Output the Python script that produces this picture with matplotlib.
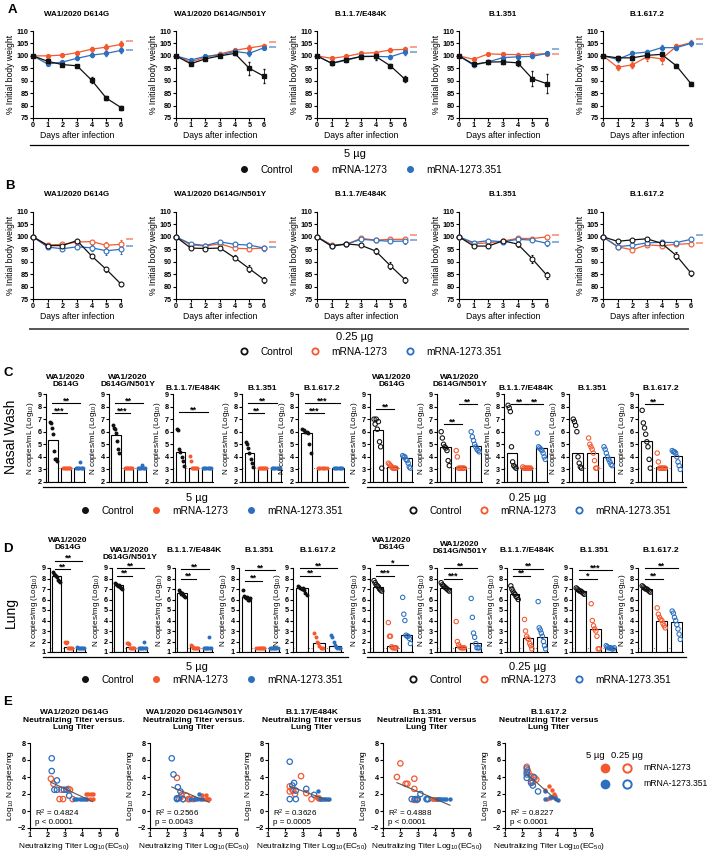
import numpy as np
import matplotlib
matplotlib.use("Agg")
import matplotlib.pyplot as plt
from matplotlib.lines import Line2D

plt.rcParams['font.family'] = ['Liberation Sans', 'DejaVu Sans']
plt.rcParams['font.weight'] = 'bold'
plt.rcParams['mathtext.default'] = 'regular'
plt.rcParams['axes.linewidth'] = 0.8

W, H = 714, 857
BLACK = '#111111'
ORANGE = '#F4582F'
BLUE = '#2C6FBF'
COLORS = [BLACK, ORANGE, BLUE]

variants = ["WA1/2020 D614G", "WA1/2020 D614G/N501Y", "B.1.1.7/E484K", "B.1.351", "B.1.617.2"]
groups = ["Control", "mRNA-1273", "mRNA-1273.351"]
days = [0, 1, 2, 3, 4, 5, 6]

# ---- A: body weight, 5 ug ----
a_ctrl = [[100, 97.8, 96.5, 96.0, 90.2, 83.0, 79.2],
          [100, 96.8, 98.8, 100.0, 101.0, 95.0, 91.8],
          [100, 97.0, 98.5, 99.7, 99.8, 96.0, 90.6],
          [100, 96.6, 97.5, 97.6, 97.2, 90.8, 88.8],
          [100, 99.2, 99.2, 100.2, 100.6, 96.0, 88.8]]
a_1273 = [[100, 100.0, 100.3, 101.3, 102.7, 103.5, 104.6],
          [100, 97.5, 99.5, 100.8, 102.2, 103.2, 104.1],
          [100, 99.0, 99.8, 101.0, 101.3, 102.4, 102.6],
          [100, 98.6, 100.8, 100.6, 100.5, 100.6, 100.9],
          [100, 95.4, 96.4, 99.6, 98.8, 103.8, 105.3]]
a_351 = [[100, 96.7, 97.5, 99.0, 100.3, 101.0, 102.2],
         [100, 98.3, 99.8, 100.3, 101.8, 101.0, 103.3],
         [100, 97.0, 98.2, 99.8, 99.8, 99.6, 101.5],
         [100, 96.2, 97.6, 99.3, 99.6, 99.8, 101.0],
         [100, 98.6, 101.0, 101.5, 103.3, 103.3, 105.0]]
a_ctrl_err = [[0, 0.6, 0.5, 0.5, 1.3, 0.9, 0.8],
              [0, 0.5, 0.5, 0.5, 0.6, 2.5, 2.8],
              [0, 0.5, 0.6, 0.7, 1.5, 0.8, 1.2],
              [0, 0.5, 0.8, 0.8, 1.2, 3.0, 3.8],
              [0, 0.8, 0.9, 0.8, 1.0, 0.6, 0.7]]
a_1273_err = [[0, 0.4, 0.6, 0.8, 1.0, 1.1, 1.2],
              [0, 0.5, 0.5, 0.6, 0.6, 1.0, 0.8],
              [0, 0.4, 0.5, 0.6, 0.6, 0.9, 1.0],
              [0, 0.3, 0.4, 0.5, 0.6, 0.6, 0.5],
              [0, 1.0, 1.2, 1.5, 2.0, 0.8, 1.0]]
a_351_err = [[0, 0.5, 0.6, 0.6, 0.8, 0.9, 1.0],
             [0, 0.5, 0.6, 0.6, 0.8, 1.0, 0.7],
             [0, 0.5, 0.6, 0.7, 1.0, 0.8, 1.2],
             [0, 0.5, 0.6, 0.6, 0.7, 0.6, 0.4],
             [0, 1.0, 0.8, 1.0, 1.0, 0.9, 0.9]]
a_sig_1273 = [105.3, 105.0, 103.0, 100.0, 106.2]
a_sig_351 = [101.9, 103.0, 101.0, 102.0, 104.2]

# ---- B: body weight, 0.25 ug ----
b_ctrl = [[100, 96.5, 96.5, 98.5, 92.3, 86.9, 81.0],
          [100, 95.5, 95.3, 95.5, 91.6, 87.2, 82.8],
          [100, 96.2, 97.2, 96.6, 94.3, 88.4, 82.8],
          [100, 96.3, 96.3, 98.4, 97.1, 91.1, 84.5],
          [100, 98.2, 98.8, 99.2, 97.4, 92.5, 85.4]]
b_1273 = [[100, 96.7, 97.0, 97.9, 98.1, 96.6, 97.0],
          [100, 96.8, 96.3, 97.2, 95.4, 95.2, 95.5],
          [100, 96.8, 97.0, 99.4, 98.7, 99.0, 99.0],
          [100, 97.2, 97.6, 98.3, 99.4, 99.3, 100.0],
          [100, 96.0, 94.8, 96.8, 96.4, 97.0, 97.3]]
b_351 = [[100, 95.9, 95.2, 96.0, 95.6, 94.4, 95.0],
         [100, 97.2, 96.5, 98.0, 97.0, 96.7, 95.5],
         [100, 96.5, 97.0, 99.0, 98.6, 98.2, 98.3],
         [100, 97.7, 98.5, 98.0, 99.0, 98.7, 97.4],
         [100, 96.1, 96.6, 97.6, 97.8, 97.7, 99.0]]
b_ctrl_err = [[0, 0.5, 0.5, 0.5, 1.0, 1.0, 0.8],
              [0, 0.5, 0.5, 0.6, 1.0, 1.5, 1.2],
              [0, 0.5, 0.5, 0.8, 1.3, 1.5, 1.2],
              [0, 0.5, 0.6, 0.5, 1.2, 1.5, 1.3],
              [0, 0.5, 0.5, 0.5, 0.8, 1.3, 1.0]]
b_1273_err = [[0, 0.5, 0.7, 0.7, 0.8, 1.2, 1.8],
              [0, 0.5, 0.5, 0.5, 0.6, 0.8, 1.0],
              [0, 0.5, 0.5, 0.6, 0.6, 0.8, 0.8],
              [0, 0.5, 0.5, 0.5, 0.6, 0.7, 0.8],
              [0, 0.6, 0.7, 0.7, 0.7, 0.8, 0.8]]
b_351_err = [[0, 0.5, 0.6, 0.8, 1.2, 1.5, 2.0],
             [0, 0.5, 0.5, 0.6, 0.8, 1.0, 1.0],
             [0, 0.5, 0.5, 0.6, 0.6, 0.8, 1.2],
             [0, 0.5, 0.5, 0.5, 0.6, 0.7, 1.0],
             [0, 0.6, 0.7, 0.6, 0.7, 0.8, 0.8]]
b_sig_1273 = [98.6, 97.4, 100.0, 100.2, 97.0]
b_sig_351 = [95.6, 95.4, 98.0, 97.2, 100.0]

# ---- C: nasal wash (log10 N copies/mL) ----
c5_ctrl = [[6.8, 6.7, 6.3, 5.8, 4.5, 3.8, 3.8, 3.7],
           [6.5, 6.3, 6.2, 5.9, 5.3, 4.6, 4.3],
           [6.2, 6.1, 4.6, 4.4, 4.0, 3.7, 3.3],
           [5.2, 5.0, 4.7, 4.3, 3.8, 3.5, 3.2],
           [6.2, 6.1, 6.0, 6.0, 5.9, 5.0, 4.3]]
c5_1273 = [[3.1, 3.1, 3.1, 3.1, 3.1, 3.1, 3.1, 3.1],
           [3.1, 3.1, 3.1, 3.1, 3.1, 3.1, 3.1, 3.1],
           [4.1, 3.7, 3.1, 3.1, 3.1, 3.1, 3.1, 3.1],
           [3.1, 3.1, 3.1, 3.1, 3.1, 3.1, 3.1, 3.1],
           [3.1, 3.1, 3.1, 3.1, 3.1, 3.1, 3.1, 3.1]]
c5_351 = [[3.1, 3.1, 3.1, 3.1, 3.6, 3.1, 3.1, 3.1],
          [3.1, 3.1, 3.1, 3.1, 3.35, 3.1, 3.1, 3.1],
          [3.1, 3.1, 3.1, 3.1, 3.1, 3.1, 3.1, 3.1],
          [3.1, 3.1, 3.1, 3.1, 3.1, 3.1, 3.1, 3.1],
          [3.1, 3.1, 3.1, 3.1, 3.1, 3.1, 3.1, 3.1]]
c5_bars = [[5.35, 3.1, 3.1], [5.75, 3.1, 3.1], [4.35, 3.1, 3.1], [4.3, 3.1, 3.1], [5.9, 3.1, 3.1]]
c5_sig = [[(0, 1, 7.5, '***'), (0, 2, 8.25, '**')],
          [(0, 1, 7.45, '***'), (0, 2, 8.25, '**')],
          [(0, 2, 7.6, '**')],
          [(0, 1, 7.5, '**'), (0, 2, 8.25, '**')],
          [(0, 1, 7.5, '***'), (0, 2, 8.25, '***')]]

c25_ctrl = [[7.0, 6.6, 7.0, 6.2, 6.8, 5.2, 4.8, 3.1],
            [6.0, 5.5, 5.0, 4.8, 4.7, 4.5, 3.7, 3.3],
            [8.1, 7.9, 7.6, 4.8, 3.6, 3.3, 3.2, 3.1],
            [7.0, 6.8, 6.5, 6.0, 4.0, 3.5, 3.2, 3.1],
            [7.7, 6.7, 6.3, 5.8, 5.2, 4.8, 3.8, 3.1]]
c25_1273 = [[3.5, 3.4, 3.3, 3.2, 3.1, 3.1, 3.1, 3.1],
            [4.5, 4.0, 3.1, 3.1, 3.1, 3.1, 3.1, 3.1],
            [3.2, 3.1, 3.1, 3.1, 3.1, 3.1, 3.1, 3.1],
            [5.5, 5.0, 4.8, 4.6, 4.3, 3.7, 3.1, 3.1],
            [4.3, 3.6, 3.1, 3.1, 3.1, 3.1, 3.1, 3.1]]
c25_351 = [[4.1, 4.0, 4.0, 3.8, 3.7, 3.5, 3.2, 3.1],
           [6.0, 5.6, 5.3, 5.0, 4.8, 4.6, 4.5, 4.4],
           [5.9, 4.8, 4.7, 4.6, 4.5, 4.3, 4.0, 3.8],
           [4.8, 4.6, 4.3, 4.0, 3.8, 3.6, 3.4, 3.3],
           [4.5, 4.4, 4.4, 4.3, 4.0, 3.6, 3.3, 3.0]]
c25_bars = [[6.1, 3.2, 3.9], [4.8, 3.2, 4.9], [4.3, 3.1, 4.7], [4.3, 4.3, 4.0], [5.3, 3.2, 4.1]]
c25_sig = [[(0, 1, 7.8, '**')],
           [(0, 1, 6.65, '**'), (1, 2, 8.2, '**')],
           [(0, 1, 8.2, '**'), (1, 2, 8.2, '**')],
           [],
           [(0, 1, 8.2, '**')]]

# ---- D: lung (log10 N copies/mg) ----
d5_ctrl = [[8.6, 8.4, 8.3, 8.2, 8.1, 7.9, 7.8, 7.7],
           [7.6, 7.5, 7.4, 7.3, 7.4, 7.2, 7.1, 7.0],
           [6.9, 6.7, 6.6, 6.5, 6.6, 6.4, 6.3, 6.2],
           [6.9, 6.3, 6.2, 6.1, 6.2, 6.0, 6.0, 6.1],
           [7.3, 7.2, 7.1, 7.0, 7.1, 6.9, 6.6, 6.4]]
d5_1273 = [[2.0, 1.9, 1.95, 1.4, 1.4, 1.4, 1.4, 1.4],
           [1.9, 1.85, 1.8, 1.4, 1.4, 1.4, 1.4, 1.4],
           [1.7, 1.6, 1.4, 1.4, 1.4, 1.4, 1.4, 1.4],
           [1.4, 1.4, 1.4, 1.4, 1.4, 1.4, 1.4, 1.4],
           [2.8, 2.4, 2.0, 1.9, 1.6, 1.4, 1.4, 1.4]]
d5_351 = [[1.45, 1.4, 1.4, 1.4, 1.4, 1.4, 1.4, 1.4],
          [1.4, 1.4, 1.4, 1.4, 1.4, 2.0, 1.4, 1.4],
          [1.4, 1.4, 1.4, 1.4, 1.4, 2.4, 1.4, 1.4],
          [1.4, 1.4, 1.4, 1.4, 1.4, 1.4, 1.4, 1.4],
          [2.6, 2.4, 2.0, 1.7, 1.5, 1.4, 1.4, 1.4]]
d5_bars = [[8.2, 1.45, 1.4], [7.4, 1.45, 1.45], [6.6, 1.45, 1.5], [6.2, 1.4, 1.4], [7.1, 1.9, 1.6]]
d5_sig = [[(0, 1, 8.9, '**'), (0, 2, 9.7, '**')],
          [(0, 1, 8.25, '**'), (0, 2, 9.0, '**')],
          [(0, 1, 8.0, '**'), (0, 2, 8.9, '**')],
          [(0, 1, 7.8, '**'), (0, 2, 8.8, '**')],
          [(0, 1, 8.25, '**'), (0, 2, 9.0, '**')]]

d25_ctrl = [[7.8, 7.6, 7.4, 7.3, 7.2, 7.0, 6.9, 6.8],
            [7.6, 7.4, 7.3, 7.2, 7.1, 7.0, 6.9, 6.8],
            [7.3, 7.0, 6.8, 6.6, 6.5, 6.3, 6.2, 6.0],
            [7.1, 7.0, 6.9, 6.8, 6.8, 6.7, 6.6, 6.5],
            [7.3, 7.2, 7.1, 7.0, 7.0, 6.9, 6.8, 6.7]]
d25_1273 = [[3.8, 2.5, 2.5, 1.5, 1.4, 1.4, 1.4, 1.4],
            [3.9, 2.0, 1.7, 1.5, 1.4, 1.4, 1.4, 1.4],
            [4.1, 3.0, 2.5, 2.3, 2.2, 1.8, 1.6, 1.3],
            [5.6, 4.0, 3.5, 3.2, 3.0, 2.5, 1.3, 1.3],
            [5.2, 4.6, 4.3, 4.1, 4.0, 3.7, 3.5, 3.3]]
d25_351 = [[6.2, 4.6, 4.0, 2.6, 2.5, 2.5, 2.3, 1.8],
           [6.1, 4.3, 2.8, 2.4, 1.8, 1.4, 1.4, 1.4],
           [5.8, 3.3, 3.1, 2.8, 2.5, 2.0, 1.6, 1.3],
           [1.6, 1.5, 1.4, 1.4, 1.4, 1.3, 1.3, 1.4],
           [4.9, 4.7, 4.3, 4.0, 3.6, 3.2, 2.7, 2.2]]
d25_bars = [[7.2, 1.6, 2.6], [7.1, 1.5, 1.9], [6.5, 2.3, 2.4], [6.8, 3.2, 1.4], [7.0, 4.0, 3.9]]
d25_sig = [[(0, 1, 8.25, '***'), (0, 2, 9.25, '*')],
           [(0, 1, 8.0, '***'), (0, 2, 9.0, '**')],
           [(0, 1, 8.25, '**'), (0, 2, 8.95, '**')],
           [(0, 1, 8.0, '*'), (0, 2, 8.8, '***')],
           [(0, 1, 8.0, '**'), (0, 2, 9.0, '**')]]

# ---- E: neutralizing titer vs lung titer ----
e_titles = ["WA1/2020 D614G\nNeutralizing Titer versus.\nLung Titer",
            "WA1/2020 D614G/N501Y\nNeutralizing Titer versus.\nLung Titer",
            "B.1.17/E484K\nNeutralizing Titer versus\nLung Titer",
            "B.1.351\nNeutralizing Titer versus\nLung Titer",
            "B.1.617.2\nNeutralizing Titer versus\nLung Titer"]
e_r2 = ["0.4824", "0.2566", "0.3626", "0.4888", "0.8227"]
e_p = ["p < 0.0001", "p = 0.0043", "p = 0.0005", "p < 0.0001", "p < 0.0001"]
e_f1273_x = [[4.2, 4.35, 4.5, 4.6, 4.3, 4.45, 4.6], [4.0, 4.2, 4.35, 4.4, 4.1, 4.25, 4.3],
             [3.75, 3.8, 3.85, 3.9, 3.95, 4.0, 4.05], [3.8, 3.9, 3.95, 4.0, 4.05, 4.1, 4.2],
             [3.3, 3.5, 3.7, 3.8, 3.6, 3.9, 3.4]]
e_f1273_y = [[2.0, 2.0, 2.0, 2.0, 1.4, 1.4, 1.4], [1.9, 1.9, 1.4, 1.4, 1.4, 1.4, 1.4],
             [1.6, 1.5, 1.4, 1.7, 1.6, 1.4, 1.4], [1.4, 1.4, 1.4, 1.4, 1.4, 1.4, 1.4],
             [2.5, 2.9, 2.5, 2.0, 1.5, 1.8, 1.4]]
e_o1273_x = [[2.2, 2.35, 2.7, 2.9, 3.3, 3.45, 2.8, 3.2], [2.55, 2.8, 3.1, 3.3, 3.2, 2.9, 3.5, 2.75],
             [2.25, 2.25, 2.4, 2.45, 2.55, 2.9, 3.2, 3.5], [1.8, 2.0, 2.3, 2.4, 2.8, 2.8, 2.95, 2.8],
             [2.25, 2.3, 2.35, 2.5, 2.5, 2.6, 2.7, 2.8]]
e_o1273_y = [[3.8, 3.2, 1.4, 1.4, 2.5, 1.4, 2.5, 2.6], [3.9, 1.9, 1.8, 1.4, 1.4, 1.4, 1.4, 1.6],
             [2.9, 2.3, 2.5, 2.4, 2.0, 4.1, 2.1, 1.4], [4.0, 5.6, 3.2, 3.2, 3.8, 2.6, 1.3, 1.3],
             [5.2, 4.8, 4.5, 4.1, 3.5, 3.4, 3.9, 3.7]]
e_f351_x = [[3.5, 3.6, 3.7, 3.9, 4.0, 4.1, 4.2], [3.3, 3.5, 3.6, 3.7, 3.8, 3.9, 4.0],
            [3.9, 4.0, 4.1, 4.2, 4.3, 4.4, 4.5], [4.1, 4.2, 4.3, 4.4, 4.5, 4.6, 4.85],
            [3.3, 3.3, 3.6, 3.7, 3.85, 3.95, 4.05]]
e_f351_y = [[1.4, 1.4, 1.4, 1.4, 1.4, 1.4, 1.4], [1.4, 1.4, 1.4, 1.4, 2.0, 1.4, 1.4],
            [2.4, 1.4, 1.4, 1.4, 1.4, 1.4, 1.4], [1.4, 1.4, 1.4, 1.4, 1.4, 1.4, 1.4],
            [1.4, 2.4, 1.6, 1.7, 1.5, 1.4, 1.3]]
e_o351_x = [[2.25, 2.25, 2.55, 2.4, 2.55, 3.1, 3.25, 2.95], [2.25, 2.35, 2.6, 2.75, 2.55, 2.55, 2.65, 2.9],
            [2.25, 2.25, 2.4, 2.5, 2.6, 2.6, 3.2, 3.65], [2.65, 2.85, 2.95, 3.0, 3.15, 3.5, 3.55, 3.6],
            [2.25, 2.25, 2.25, 2.25, 2.5, 2.6, 2.65, 2.9]]
e_o351_y = [[6.2, 4.7, 3.6, 2.5, 2.5, 2.5, 1.8, 2.5], [6.2, 4.3, 2.8, 2.3, 1.5, 1.4, 1.5, 1.4],
            [5.8, 1.4, 3.0, 3.3, 2.4, 1.4, 2.6, 1.9], [1.4, 1.4, 1.4, 1.4, 2.0, 1.4, 1.4, 1.4],
            [5.0, 4.6, 4.3, 3.9, 3.3, 3.0, 4.0, 2.3]]


fig = plt.figure(figsize=(W / 100, H / 100), dpi=100)


def box(l, t, w, h):
    return [l / W, 1 - (t + h) / H, w / W, h / H]


def ftext(x, y, s, **kw):
    fig.text(x / W, 1 - y / H, s, ha=kw.pop('ha', 'center'), va=kw.pop('va', 'center'), **kw)


def hline(x0, x1, y, color='black', lw=0.9):
    fig.add_artist(Line2D([x0 / W, x1 / W], [1 - y / H, 1 - y / H], color=color, lw=lw,
                          transform=fig.transFigure))


def style(ax, fs=5.2):
    ax.spines['top'].set_visible(False)
    ax.spines['right'].set_visible(False)
    ax.tick_params(labelsize=fs, length=2, width=0.8, pad=1)


def legend_row(xc, y, filled):
    handles = []
    for c in COLORS:
        if filled:
            handles.append(Line2D([], [], ls='none', marker='o', ms=4, mfc=c, mec=c))
        else:
            handles.append(Line2D([], [], ls='none', marker='o', ms=4.5, mfc='none', mec=c, mew=1.3))
    fig.legend(handles, groups, loc='center', bbox_to_anchor=(xc / W, 1 - y / H), ncol=3,
               frameon=False, prop={'size': 7.3, 'weight': 'normal'}, handlelength=0.8,
               handletextpad=1.2, columnspacing=1.8, borderpad=0, borderaxespad=0)


# ---------------- A and B: weight curves ----------------
wt_lefts = [33, 176, 317, 459, 603]
for top, title_y, data, errs, sigs, filled in [
        (31, 15, (a_ctrl, a_1273, a_351), (a_ctrl_err, a_1273_err, a_351_err), (a_sig_1273, a_sig_351), True),
        (212, 195, (b_ctrl, b_1273, b_351), (b_ctrl_err, b_1273_err, b_351_err), (b_sig_1273, b_sig_351), False)]:
    for k, left in enumerate(wt_lefts):
        ax = fig.add_axes(box(left, top, 88, 87))
        style(ax)
        # draw treated groups first, control on top
        for g in [1, 2, 0]:
            c = COLORS[g]
            if filled:
                mk = 's' if g == 0 else 'o'
                ax.errorbar(days, data[g][k], yerr=errs[g][k], color=c, marker=mk, ms=2.8, lw=0.9,
                            elinewidth=0.6, capsize=1, clip_on=False, zorder=3)
            else:
                ax.errorbar(days, data[g][k], yerr=errs[g][k], color=c, marker='o', ms=3.5, mfc='white',
                            mec=c, mew=0.8, lw=0.9, elinewidth=0.6, capsize=1, clip_on=False, zorder=3)
        ax.text(6.35, sigs[0][k], '****', color=ORANGE, fontsize=3.8, va='center', ha='left', clip_on=False)
        ax.text(6.35, sigs[1][k], '****', color=BLUE, fontsize=3.8, va='center', ha='left', clip_on=False)
        ax.set_xlim(0, 6)
        ax.set_ylim(75, 110)
        ax.set_xticks(days)
        ax.set_yticks(range(75, 111, 5))
        ax.set_xlabel("Days after infection", fontsize=6.2, labelpad=1.5)
        ax.set_ylabel("% Initial body weight", fontsize=6.2, labelpad=1)
        ftext(left + 44, title_y, variants[k], fontsize=5.8)

hline(30, 688, 145)
hline(30, 688, 329, color='#555555', lw=1.4)
ftext(355, 154, "5 µg", fontsize=8, fontweight='normal')
ftext(355, 337, "0.25 µg", fontsize=8, fontweight='normal')
legend_row(371, 170, True)
legend_row(371, 352, False)


# ---------------- C and D: bars with points ----------------
def bar_panel(ax, pts_list, bars, sig, filled, ylo, yhi, lod, ylabel):
    ax.bar([0, 1, 2], [b - ylo for b in bars], bottom=ylo, width=0.72, color='white',
           edgecolor='black', lw=0.8, zorder=1)
    for i, pts in enumerate(pts_list):
        off = np.linspace(-0.27, 0.27, len(pts))
        if filled:
            ax.scatter(i + off, pts, s=8, color=COLORS[i], lw=0, zorder=3, clip_on=False)
        else:
            ax.scatter(i + off, pts, s=10, facecolors='none', edgecolors=COLORS[i], lw=0.75,
                       zorder=3, clip_on=False)
    ax.axhline(lod, color='#777777', ls=':', lw=0.7, zorder=0)
    for i, j, y, lab in sig:
        ax.plot([i - 0.1, j + 0.1], [y, y], color='black', lw=0.8, clip_on=False)
        ax.text((i + j) / 2, y - 0.2, lab, ha='center', va='bottom', fontsize=6.5, clip_on=False)
    ax.set_xlim(-0.55, 2.45)
    ax.set_ylim(ylo, yhi)
    ax.set_yticks(range(ylo, yhi + 1))
    ax.set_xticks([])
    ax.set_ylabel(ylabel, fontsize=5.8, labelpad=1)
    style(ax)


c_ylabel = r"N copies/mL (Log$_{10}$)"
d_ylabel = r"N copies/mg (Log$_{10}$)"
two_line = ["WA1/2020\nD614G", "WA1/2020\nD614G/N501Y", "B.1.1.7/E484K", "B.1.351", "B.1.617.2"]

c_lefts5, c_w5 = [46, 109, 173, 242, 298], [39, 38, 40, 40, 47]
c_lefts25, c_w25 = [370, 437, 504, 569, 638], [43, 45, 44, 46, 45]
d_lefts5, d_w5 = [50, 112, 175, 239, 293], [36, 36, 38, 41, 50]
d_lefts25, d_w25 = [370, 437, 507, 572, 638], [43, 45, 41, 45, 45]

c_title_y = [381, 381, 388, 388, 388]
d5_title_y = [544, 554, 550, 550, 550]
d25_title_y = [544, 548, 550, 550, 550]

for k in range(5):
    ax = fig.add_axes(box(c_lefts5[k], 394, c_w5[k], 88))
    bar_panel(ax, [c5_ctrl[k], c5_1273[k], c5_351[k]], c5_bars[k], c5_sig[k], True, 2, 9, 3.1, c_ylabel)
    ftext(c_lefts5[k] + c_w5[k] / 2, c_title_y[k], two_line[k], fontsize=6, linespacing=1.1)
    ax = fig.add_axes(box(c_lefts25[k], 394, c_w25[k], 88))
    bar_panel(ax, [c25_ctrl[k], c25_1273[k], c25_351[k]], c25_bars[k], c25_sig[k], False, 2, 9, 3.1, c_ylabel)
    ftext(c_lefts25[k] + c_w25[k] / 2, c_title_y[k], two_line[k], fontsize=6, linespacing=1.1)

    ax = fig.add_axes(box(d_lefts5[k], 568, d_w5[k], 84))
    bar_panel(ax, [d5_ctrl[k], d5_1273[k], d5_351[k]], d5_bars[k], d5_sig[k], True, 1, 9, 1.35, d_ylabel)
    ftext(d_lefts5[k] + d_w5[k] / 2, d5_title_y[k], two_line[k], fontsize=6, linespacing=1.1)
    ax = fig.add_axes(box(d_lefts25[k], 568, d_w25[k], 84))
    bar_panel(ax, [d25_ctrl[k], d25_1273[k], d25_351[k]], d25_bars[k], d25_sig[k], False, 1, 9, 1.35, d_ylabel)
    ftext(d_lefts25[k] + d_w25[k] / 2, d25_title_y[k], two_line[k], fontsize=6, linespacing=1.1)

hline(43, 348, 487)
hline(367, 686, 487)
hline(43, 348, 657)
hline(367, 686, 657)
ftext(197, 498, "5 µg", fontsize=8, fontweight='normal')
ftext(528, 498, "0.25 µg", fontsize=8, fontweight='normal')
ftext(197, 667, "5 µg", fontsize=8, fontweight='normal')
ftext(528, 667, "0.25 µg", fontsize=8, fontweight='normal')
legend_row(212, 511, True)
legend_row(540, 511, False)
legend_row(212, 680, True)
legend_row(540, 680, False)
ftext(11, 437, "Nasal Wash", fontsize=10, fontweight='normal', rotation=90)
ftext(11, 612, "Lung", fontsize=10, fontweight='normal', rotation=90)

# ---------------- E: correlation ----------------
e_lefts = [30, 150, 268, 383, 505]
for k, left in enumerate(e_lefts):
    ax = fig.add_axes(box(left, 743, 87, 85))
    style(ax)
    xs = e_f1273_x[k] + e_o1273_x[k] + e_f351_x[k] + e_o351_x[k]
    ys = e_f1273_y[k] + e_o1273_y[k] + e_f351_y[k] + e_o351_y[k]
    slope, icpt = np.polyfit(xs, ys, 1)
    xl = np.array([min(xs), max(xs)])
    ax.plot(xl, slope * xl + icpt, color='#555555', lw=0.8, zorder=4)
    ax.scatter(e_o1273_x[k], e_o1273_y[k], s=15, facecolors='none', edgecolors=ORANGE, lw=0.9, zorder=3)
    ax.scatter(e_o351_x[k], e_o351_y[k], s=15, facecolors='none', edgecolors=BLUE, lw=0.9, zorder=3)
    ax.scatter(e_f1273_x[k], e_f1273_y[k], s=10, color=ORANGE, lw=0, zorder=3)
    ax.scatter(e_f351_x[k], e_f351_y[k], s=10, color=BLUE, lw=0, zorder=3)
    ax.text(1.3, -0.25, "R$^2$ = " + e_r2[k], fontsize=5.8, fontweight='normal', va='center')
    ax.text(1.3, -1.35, e_p[k], fontsize=5.8, fontweight='normal', va='center')
    ax.set_xlim(1, 6)
    ax.set_ylim(-2, 8)
    ax.set_xticks(range(1, 7))
    ax.set_yticks(range(-2, 9, 2))
    ax.set_xlabel(r"Neutralizing Titer Log$_{10}$(EC$_{50}$)", fontsize=6, labelpad=1.5)
    ax.set_ylabel(r"Log$_{10}$ N copies/mg", fontsize=6, labelpad=1)
    ftext(left + 44, 720, e_titles[k], fontsize=6, linespacing=1.15)

ftext(595, 755, "5 µg", fontsize=6.8, fontweight='normal')
ftext(627, 755, "0.25 µg", fontsize=6.8, fontweight='normal')
for y, c, lab in [(768, ORANGE, "mRNA-1273"), (784, BLUE, "mRNA-1273.351")]:
    fig.add_artist(Line2D([605 / W], [1 - y / H], marker='o', ms=6, color=c, ls='none',
                          transform=fig.transFigure))
    fig.add_artist(Line2D([627 / W], [1 - y / H], marker='o', ms=6, mfc='none', mec=c, mew=1.4,
                          ls='none', transform=fig.transFigure))
    ftext(643, y, lab, fontsize=6.2, fontweight='normal', ha='left')

# panel letters
for lab, x, y in [("A", 12, 10), ("B", 10, 186), ("C", 8, 373), ("D", 8, 549), ("E", 8, 702)]:
    ftext(x, y, lab, fontsize=9.5)

fig.savefig("out.png", dpi=100)
